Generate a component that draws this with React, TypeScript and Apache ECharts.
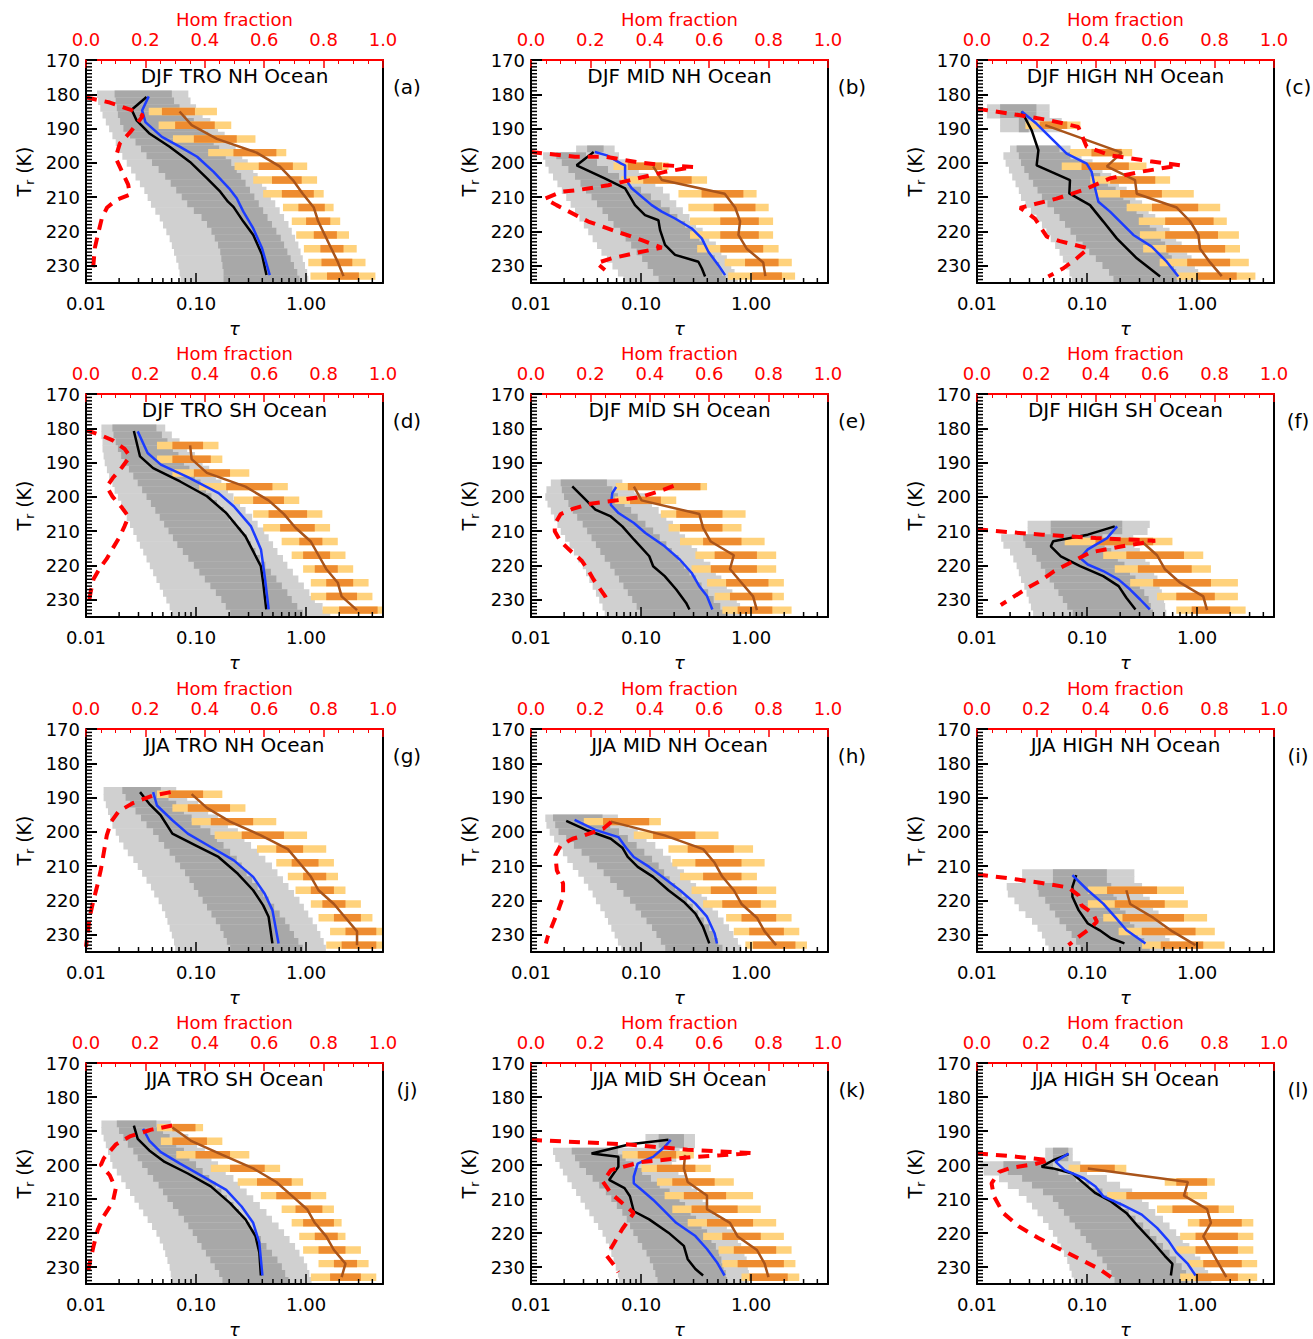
import React, { useEffect, useRef } from "react";
import * as echarts from "echarts";

type Row = number[];

const TITLES = [
  "DJF TRO NH Ocean", "DJF MID NH Ocean", "DJF HIGH NH Ocean",
  "DJF TRO SH Ocean", "DJF MID SH Ocean", "DJF HIGH SH Ocean",
  "JJA TRO NH Ocean", "JJA MID NH Ocean", "JJA HIGH NH Ocean",
  "JJA TRO SH Ocean", "JJA MID SH Ocean", "JJA HIGH SH Ocean",
];
const LETTERS = ["(a)", "(b)", "(c)", "(d)", "(e)", "(f)", "(g)", "(h)", "(i)", "(j)", "(k)", "(l)"];

const T_MIN = 170, T_MAX = 235, T_STEP = 10;
const TAU_MIN = 0.01, TAU_MAX = 5;
const HOM_MIN = 0, HOM_MAX = 1, HOM_STEP = 0.2;

// gray rows: [T bin centre, lo outer, lo inner, hi inner, hi outer] (log10 tau)
// bar rows: [T, lo outer, lo inner, hi inner, hi outer, median] (log10 tau)
// line points: [T, log10 tau];  hom points: [fraction, T]

const GRAY_A: Row[] = [
  [180,-1.90,-1.74,-1.22,-1.07],[182,-1.89,-1.73,-1.20,-1.05],[184,-1.87,-1.72,-1.15,-1.00],[186,-1.85,-1.71,-1.09,-0.94],
  [188,-1.82,-1.69,-1.02,-0.87],[190,-1.79,-1.66,-0.95,-0.80],[192,-1.76,-1.60,-0.89,-0.74],[194,-1.73,-1.55,-0.84,-0.69],
  [196,-1.70,-1.50,-0.79,-0.64],[198,-1.67,-1.45,-0.73,-0.58],[200,-1.63,-1.40,-0.68,-0.53],[202,-1.59,-1.34,-0.63,-0.48],
  [204,-1.55,-1.28,-0.59,-0.44],[206,-1.51,-1.23,-0.55,-0.40],[208,-1.47,-1.18,-0.51,-0.36],[210,-1.44,-1.13,-0.47,-0.32],
  [212,-1.41,-1.08,-0.43,-0.28],[214,-1.37,-1.02,-0.39,-0.24],[216,-1.33,-0.95,-0.35,-0.20],[218,-1.30,-0.90,-0.31,-0.16],
  [220,-1.27,-0.86,-0.27,-0.13],[222,-1.24,-0.83,-0.23,-0.10],[224,-1.22,-0.80,-0.20,-0.07],[226,-1.20,-0.78,-0.17,-0.05],
  [228,-1.18,-0.77,-0.14,-0.03],[230,-1.16,-0.76,-0.11,-0.01],[232,-1.15,-0.75,-0.08,0.01],[234,-1.14,-0.75,-0.06,0.02],
];
const BARS_A: Row[] = [
  [185,-1.43,-1.31,-1.01,-0.81,-1.15],[189,-1.34,-1.19,-0.83,-0.68,-1.04],[193,-1.21,-1.02,-0.63,-0.46,-0.81],
  [197,-0.89,-0.66,-0.27,-0.18,-0.45],[201,-0.65,-0.43,-0.12,0.01,-0.24],[205,-0.48,-0.31,-0.04,0.10,-0.12],
  [209,-0.39,-0.22,0.07,0.16,-0.03],[213,-0.21,-0.07,0.17,0.25,0.07],[217,-0.13,0.00,0.22,0.31,0.11],
  [221,-0.09,0.07,0.28,0.39,0.17],[225,-0.02,0.13,0.34,0.46,0.23],[229,0.02,0.14,0.42,0.54,0.29],[233,0.04,0.19,0.48,0.63,0.34],
];
const BLACK_A: Row[] = [
  [180.8,-1.45],[184.5,-1.585],[187.6,-1.54],[191.5,-1.42],[195.3,-1.24],[199.7,-1.055],[204.5,-0.90],
  [208.4,-0.78],[211.3,-0.71],[212.8,-0.66],[217.1,-0.57],[221.0,-0.48],[226.8,-0.40],[232.7,-0.36],
];
const BLUE_A: Row[] = [
  [180.6,-1.43],[184.7,-1.49],[188.1,-1.46],[192.4,-1.31],[195.3,-1.145],[198.2,-0.99],[202.6,-0.84],
  [207.4,-0.70],[210.3,-0.63],[214.2,-0.57],[219.1,-0.48],[224.9,-0.40],[232.7,-0.33],
];
const HOM_A: Row[] = [
  [0,180.9],[0.08,182.4],[0.156,184.7],[0.192,186.2],[0.172,188.5],[0.148,191.1],[0.114,194.3],[0.104,197.2],
  [0.104,199.3],[0.131,204.3],[0.142,206.3],[0.148,209.2],[0.104,210.7],[0.071,213],[0.054,215.9],[0.04,220.9],
  [0.03,224.7],[0.024,230.5],
];

const GRAY_B: Row[] = [
  [196,-1.59,-1.49,-1.34,-1.24],[198,-1.89,-1.77,-1.50,-1.20],[200,-1.87,-1.72,-1.40,-1.10],[202,-1.84,-1.66,-1.30,-1.02],
  [204,-1.80,-1.60,-1.20,-0.94],[206,-1.76,-1.55,-1.10,-0.87],[208,-1.72,-1.50,-1.00,-0.80],[210,-1.68,-1.45,-0.91,-0.74],
  [212,-1.64,-1.40,-0.82,-0.68],[214,-1.60,-1.35,-0.74,-0.62],[216,-1.56,-1.30,-0.67,-0.56],[218,-1.52,-1.25,-0.60,-0.50],
  [220,-1.48,-1.19,-0.53,-0.44],[222,-1.44,-1.14,-0.47,-0.38],[224,-1.40,-1.09,-0.42,-0.32],[226,-1.36,-1.04,-0.37,-0.27],
  [228,-1.31,-0.99,-0.33,-0.22],[230,-1.26,-0.94,-0.29,-0.18],[232,-1.21,-0.89,-0.26,-0.15],[234,-1.16,-0.84,-0.23,-0.12],
];
const BARS_B: Row[] = [
  [201,-1.25,-1.12,-0.81,-0.75,-0.89],[205,-1.18,-0.98,-0.54,-0.40,-0.81],[209,-0.66,-0.45,-0.07,0.05,-0.24],
  [213,-0.57,-0.34,0.04,0.16,-0.145],[217,-0.555,-0.28,0.07,0.20,-0.10],[221,-0.555,-0.28,0.07,0.20,-0.115],
  [225,-0.49,-0.28,0.11,0.25,-0.04],[229,-0.24,-0.055,0.25,0.37,0.11],[233,-0.21,0.006,0.28,0.40,0.13],
];
const BLACK_B: Row[] = [
  [196.8,-1.43],[200.7,-1.585],[204.5,-1.33],[207.4,-1.145],[212.3,-1.055],[215.2,-0.964],[216.7,-0.842],
  [219.6,-0.827],[223.9,-0.782],[226.8,-0.691],[228.8,-0.479],[230.7,-0.448],[233.1,-0.418],
];
const BLUE_B: Row[] = [
  [196.8,-1.42],[197.8,-1.31],[200.2,-1.18],[200.7,-1.145],[204.5,-1.145],[207.4,-1.085],[212.3,-0.903],
  [214.2,-0.812],[216.2,-0.691],[219.1,-0.539],[222.0,-0.448],[225.9,-0.388],[229.8,-0.297],[232.7,-0.236],
];
const HOM_B: Row[] = [
  [0,196.8],[0.148,198.2],[0.249,198.2],[0.367,199.9],[0.451,200.7],[0.547,201.2],[0.451,202.6],[0.35,204.7],
  [0.26,206.5],[0.159,207.9],[0.103,208.4],[0.047,210.4],[0.086,212.3],[0.193,217.1],[0.305,220.5],[0.373,222.5],
  [0.44,224.7],[0.35,226.3],[0.272,227.8],[0.221,229.2],[0.249,231.2],
];

const GRAY_C: Row[] = [
  [184,-1.91,-1.79,-1.46,-1.34],[186,-1.91,-1.79,-1.46,-1.34],[188,-1.79,-1.62,-1.53,-1.23],[190,-1.79,-1.62,-1.53,-1.23],
  [196,-1.70,-1.64,-1.25,-1.15],[198,-1.76,-1.62,-1.15,-1.05],[200,-1.74,-1.60,-1.05,-0.95],[202,-1.71,-1.57,-0.96,-0.86],
  [204,-1.68,-1.53,-0.88,-0.78],[206,-1.65,-1.49,-0.81,-0.71],[208,-1.62,-1.45,-0.74,-0.64],[210,-1.60,-1.41,-0.67,-0.56],
  [212,-1.56,-1.36,-0.61,-0.50],[214,-1.51,-1.30,-0.55,-0.44],[216,-1.46,-1.25,-0.49,-0.38],[218,-1.41,-1.20,-0.43,-0.31],
  [220,-1.37,-1.15,-0.37,-0.25],[222,-1.33,-1.10,-0.33,-0.19],[224,-1.29,-1.04,-0.29,-0.14],[226,-1.25,-0.98,-0.26,-0.09],
  [228,-1.22,-0.92,-0.23,-0.05],[230,-1.19,-0.86,-0.21,-0.02],[232,-1.16,-0.80,-0.19,0.01],[234,-1.14,-0.76,-0.18,0.03],
];
const BARS_C: Row[] = [
  [189,-1.56,-1.43,-1.18,-1.06,-1.38],[197,-1.155,-0.96,-0.685,-0.59,-0.685],[201,-1.23,-1.05,-0.62,-0.46,-0.82],
  [205,-0.97,-0.79,-0.38,-0.245,-0.564],[209,-0.91,-0.70,-0.32,-0.03,-0.548],[213,-0.64,-0.41,0.01,0.21,-0.185],
  [217,-0.53,-0.29,0.15,0.27,-0.064],[221,-0.52,-0.29,0.19,0.38,0.012],[225,-0.49,-0.28,0.255,0.39,0.027],
  [229,-0.34,-0.09,0.30,0.47,0.118],[233,-0.185,0.00,0.36,0.53,0.224],
];
const BLACK_C: Row[] = [
  [185,-1.594],[190.5,-1.503],[196.3,-1.442],[200.7,-1.458],[205,-1.155],[208.9,-1.161],[212.3,-0.973],
  [217.1,-0.852],[222,-0.730],[224.9,-0.639],[227.8,-0.548],[233.1,-0.336],
];
const BLUE_C: Row[] = [
  [185,-1.594],[188.6,-1.458],[194.4,-1.276],[197.3,-1.185],[200.2,-1.003],[202.6,-0.958],[207.4,-0.927],
  [211.3,-0.897],[214.2,-0.791],[221,-0.579],[224.4,-0.412],[228.8,-0.276],[233.1,-0.17],
];
const HOM_C: Row[] = [
  [0,184.2],[0.145,186.1],[0.246,187.6],[0.341,189.5],[0.369,195.3],[0.448,197.8],[0.583,199.5],[0.684,200.7],
  [0.549,202.6],[0.448,204.5],[0.358,207.9],[0.268,210.4],[0.145,213.1],[0.195,216.2],[0.235,221.5],[0.279,222.8],
  [0.375,224.9],[0.336,227.8],[0.291,230.7],[0.24,233.1],
];

const GRAY_D: Row[] = [
  [180,-1.86,-1.76,-1.36,-1.28],[182,-1.86,-1.75,-1.31,-1.22],[184,-1.85,-1.73,-1.26,-1.15],[186,-1.85,-1.71,-1.21,-1.08],
  [188,-1.84,-1.68,-1.16,-1.01],[190,-1.83,-1.65,-1.11,-0.94],[192,-1.81,-1.61,-1.06,-0.88],[194,-1.79,-1.57,-1.01,-0.82],
  [196,-1.76,-1.53,-0.96,-0.77],[198,-1.74,-1.49,-0.91,-0.71],[200,-1.71,-1.45,-0.86,-0.66],[202,-1.68,-1.41,-0.81,-0.60],
  [204,-1.65,-1.37,-0.75,-0.55],[206,-1.63,-1.33,-0.70,-0.49],[208,-1.60,-1.29,-0.64,-0.44],[210,-1.57,-1.25,-0.59,-0.38],
  [212,-1.54,-1.21,-0.54,-0.34],[214,-1.51,-1.17,-0.50,-0.30],[216,-1.48,-1.12,-0.46,-0.26],[218,-1.45,-1.07,-0.42,-0.21],
  [220,-1.42,-1.02,-0.37,-0.17],[222,-1.39,-0.97,-0.32,-0.12],[224,-1.36,-0.92,-0.27,-0.07],[226,-1.33,-0.87,-0.22,-0.02],
  [228,-1.30,-0.82,-0.17,0.03],[230,-1.27,-0.77,-0.13,0.08],[232,-1.24,-0.73,-0.08,0.15],[234,-1.22,-0.69,-0.03,0.22],
];
const BARS_D: Row[] = [
  [185,-1.355,-1.215,-0.936,-0.796,-1.054],[189,-1.355,-1.215,-0.866,-0.761,-1.04],[193,-1.215,-1.02,-0.691,-0.516,-0.901],
  [197,-0.971,-0.726,-0.306,-0.166,-0.551],[201,-0.656,-0.481,-0.201,-0.062,-0.341],[205,-0.481,-0.341,0.009,0.148,-0.201],
  [209,-0.39,-0.236,0.079,0.218,-0.096],[213,-0.222,-0.062,0.148,0.288,0.043],[217,-0.131,-0.027,0.218,0.358,0.113],
  [221,-0.027,0.079,0.288,0.428,0.183],[225,0.043,0.183,0.428,0.568,0.288],[229,0.043,0.183,0.463,0.603,0.323],
  [233,0.15,0.30,0.65,0.70,0.463],
];
const BLACK_D: Row[] = [
  [180.8,-1.565],[188.2,-1.509],[191.6,-1.39],[195.5,-1.145],[199.8,-0.901],[204.7,-0.726],[211.5,-0.551],
  [220.2,-0.411],[225.0,-0.39],[232.8,-0.362],
];
const BLUE_D: Row[] = [
  [180.9,-1.53],[187.2,-1.44],[190.6,-1.32],[194.2,-1.075],[198.9,-0.795],[202.8,-0.655],[208.6,-0.50],
  [215.3,-0.41],[223.1,-0.376],[232.8,-0.34],
];
const HOM_D: Row[] = [
  [0,180.5],[0.05,182],[0.09,183.5],[0.13,186],[0.148,188.2],[0.12,191.5],[0.09,194.5],[0.07,197],[0.09,200],
  [0.12,203],[0.143,205.7],[0.13,208.5],[0.114,211.5],[0.09,215],[0.07,218],[0.045,221],[0.025,224],[0.015,228],
  [0.008,231.8],
];

const GRAY_E: Row[] = [
  [196,-1.82,-1.73,-1.31,-1.17],[198,-1.86,-1.72,-1.26,-1.06],[200,-1.87,-1.70,-1.21,-0.96],[202,-1.85,-1.66,-1.15,-0.90],
  [204,-1.82,-1.62,-1.09,-0.84],[206,-1.79,-1.58,-1.03,-0.77],[208,-1.76,-1.53,-0.96,-0.71],[210,-1.73,-1.49,-0.89,-0.65],
  [212,-1.69,-1.45,-0.83,-0.60],[214,-1.65,-1.41,-0.77,-0.54],[216,-1.61,-1.37,-0.72,-0.49],[218,-1.57,-1.33,-0.66,-0.43],
  [220,-1.53,-1.28,-0.61,-0.37],[222,-1.50,-1.24,-0.56,-0.32],[224,-1.47,-1.20,-0.50,-0.27],[226,-1.44,-1.16,-0.45,-0.22],
  [228,-1.41,-1.12,-0.39,-0.17],[230,-1.38,-1.08,-0.34,-0.13],[232,-1.35,-1.04,-0.28,-0.10],[234,-1.33,-1.00,-0.23,-0.08],
];
const BARS_E: Row[] = [
  [197,-1.23,-1.12,-0.46,-0.40,-1.065],[201,-1.24,-1.10,-0.82,-0.68,-0.995],[205,-0.82,-0.68,-0.26,-0.05,-0.47],
  [209,-0.75,-0.646,-0.26,-0.087,-0.436],[213,-0.646,-0.436,-0.087,0.123,-0.366],[217,-0.506,-0.331,0.053,0.228,-0.157],
  [221,-0.541,-0.366,0.053,0.228,-0.192],[225,-0.401,-0.227,0.158,0.298,-0.087],[229,-0.331,-0.192,0.193,0.298,0.018],
  [233,-0.261,-0.122,0.193,0.368,0.053],
];
const BLACK_E: Row[] = [
  [196.9,-1.625],[200.3,-1.52],[203.7,-1.415],[205.7,-1.275],[208.6,-1.17],[212.4,-1.065],[217.3,-0.925],
  [220.2,-0.89],[223.1,-0.785],[227,-0.68],[230.9,-0.59],[232.8,-0.56],
];
const BLUE_E: Row[] = [
  [197.1,-1.226],[198.9,-1.261],[202.3,-1.275],[204.7,-1.205],[207.6,-1.065],[210.5,-0.96],[214.4,-0.785],
  [218.3,-0.646],[222.1,-0.541],[226,-0.471],[228.9,-0.401],[232.8,-0.352],
];
const HOM_E: Row[] = [
  [0.48,196.8],[0.43,198.4],[0.37,200],[0.29,201],[0.2,202],[0.14,203.5],[0.1,205],[0.08,208],[0.08,210],[0.1,213],
  [0.13,215.5],[0.17,218.5],[0.19,221],[0.21,224],[0.23,226.5],[0.25,229],[0.26,231],
];

const GRAY_F: Row[] = [
  [208,-1.54,-1.33,-0.68,-0.43],[210,-1.54,-1.33,-0.68,-0.45],[212,-1.78,-1.58,-0.86,-0.58],[214,-1.76,-1.56,-0.84,-0.57],
  [216,-1.70,-1.50,-0.78,-0.52],[218,-1.67,-1.46,-0.72,-0.47],[220,-1.64,-1.42,-0.66,-0.43],[222,-1.62,-1.38,-0.61,-0.39],
  [224,-1.60,-1.34,-0.56,-0.36],[226,-1.57,-1.30,-0.52,-0.34],[228,-1.55,-1.26,-0.48,-0.32],[230,-1.53,-1.22,-0.44,-0.30],
  [232,-1.51,-1.18,-0.42,-0.29],[234,-1.49,-1.13,-0.40,-0.28],
];
const BARS_F: Row[] = [
  [213,-1.203,-0.923,-0.399,-0.224,-0.503],[217,-0.853,-0.643,-0.119,0.056,-0.364],[221,-0.748,-0.538,-0.049,0.126,-0.294],
  [225,-0.608,-0.399,0.126,0.371,-0.154],[229,-0.364,-0.189,0.161,0.371,0.056],[233,-0.189,-0.049,0.301,0.441,0.091],
];
const BLACK_F: Row[] = [
  [208.6,-0.748],[211,-0.993],[212.9,-1.308],[214.4,-1.329],[217.3,-1.238],[220.2,-1.063],[223.1,-0.853],
  [226,-0.713],[229.4,-0.643],[232.8,-0.56],
];
const BLUE_F: Row[] = [
  [208.6,-0.727],[212,-0.818],[215.3,-0.993],[217.8,-1.063],[219.7,-0.993],[221.6,-0.853],[224.1,-0.713],
  [227,-0.608],[229.9,-0.517],[232.8,-0.43],
];
const HOM_F: Row[] = [
  [0,209.4],[0.1,210.2],[0.22,211],[0.4,212],[0.6,212.8],[0.5,214.2],[0.38,216.2],[0.33,218.5],[0.26,221.6],
  [0.22,224.1],[0.17,226.5],[0.12,229.3],[0.08,231.5],
];

const GRAY_G: Row[] = [
  [188,-1.84,-1.67,-1.32,-1.18],[190,-1.84,-1.64,-1.25,-1.08],[192,-1.82,-1.60,-1.18,-0.98],[194,-1.80,-1.55,-1.11,-0.89],
  [196,-1.78,-1.50,-1.04,-0.80],[198,-1.76,-1.45,-0.96,-0.71],[200,-1.73,-1.39,-0.87,-0.62],[202,-1.70,-1.34,-0.81,-0.56],
  [204,-1.66,-1.29,-0.75,-0.50],[206,-1.62,-1.24,-0.69,-0.43],[208,-1.57,-1.19,-0.63,-0.37],[210,-1.53,-1.145,-0.585,-0.31],
  [212,-1.49,-1.10,-0.54,-0.26],[214,-1.45,-1.06,-0.49,-0.21],[216,-1.41,-1.02,-0.44,-0.16],[218,-1.38,-0.98,-0.39,-0.11],
  [220,-1.34,-0.94,-0.34,-0.06],[222,-1.31,-0.90,-0.29,-0.02],[224,-1.28,-0.86,-0.24,0.02],[226,-1.26,-0.82,-0.19,0.06],
  [228,-1.24,-0.78,-0.15,0.10],[230,-1.22,-0.75,-0.11,0.13],[232,-1.20,-0.72,-0.07,0.16],[234,-1.19,-0.69,-0.03,0.18],
];
const BARS_G: Row[] = [
  [189,-1.355,-1.25,-0.936,-0.761,-1.04],[193,-1.215,-1.075,-0.691,-0.551,-0.901],[197,-1.04,-0.866,-0.481,-0.271,-0.691],
  [201,-0.831,-0.585,-0.201,0.009,-0.411],[205,-0.446,-0.271,-0.027,0.183,-0.166],[209,-0.271,-0.131,0.113,0.253,-0.061],
  [213,-0.166,-0.027,0.183,0.29,0.043],[217,-0.096,0.043,0.253,0.358,0.113],[221,0.043,0.148,0.358,0.498,0.253],
  [225,0.113,0.253,0.498,0.603,0.358],[229,0.218,0.358,0.638,0.70,0.463],[233,0.183,0.323,0.638,0.70,0.463],
];
const BLACK_G: Row[] = [
  [188.4,-1.509],[191.8,-1.425],[195.2,-1.32],[200.5,-1.215],[203.9,-1.005],[207.3,-0.796],[212.2,-0.62],
  [217,-0.481],[221.4,-0.39],[224.7,-0.341],[232.5,-0.306],
];
const BLUE_G: Row[] = [
  [188.4,-1.39],[192.3,-1.355],[196.6,-1.215],[200.5,-1.075],[204.4,-0.866],[208.3,-0.656],[213.1,-0.481],
  [218,-0.376],[222.8,-0.306],[232.5,-0.25],
];
const HOM_G: Row[] = [
  [0.285,188.4],[0.226,189.4],[0.16,191.5],[0.11,194],[0.085,197],[0.07,201],[0.06,206],[0.05,211],[0.037,216],
  [0.025,220],[0.012,225],[0.005,230],[0,233.5],
];

const GRAY_H: Row[] = [
  [196,-1.87,-1.80,-1.35,-1.21],[198,-1.86,-1.78,-1.28,-1.12],[200,-1.83,-1.75,-1.20,-1.03],[202,-1.79,-1.68,-1.12,-0.95],
  [204,-1.75,-1.61,-1.04,-0.87],[206,-1.71,-1.54,-0.97,-0.80],[208,-1.67,-1.47,-0.90,-0.73],[210,-1.62,-1.40,-0.84,-0.67],
  [212,-1.57,-1.34,-0.79,-0.61],[214,-1.52,-1.28,-0.74,-0.55],[216,-1.48,-1.22,-0.69,-0.50],[218,-1.44,-1.16,-0.63,-0.45],
  [220,-1.41,-1.10,-0.58,-0.40],[222,-1.37,-1.05,-0.53,-0.35],[224,-1.33,-1.00,-0.48,-0.30],[226,-1.30,-0.95,-0.43,-0.25],
  [228,-1.27,-0.90,-0.38,-0.20],[230,-1.24,-0.86,-0.34,-0.16],[232,-1.21,-0.82,-0.30,-0.12],[234,-1.18,-0.78,-0.26,-0.09],
];
const BARS_H: Row[] = [
  [197,-1.52,-1.345,-0.926,-0.82,-1.275],[201,-1.066,-0.891,-0.506,-0.296,-0.786],[205,-0.751,-0.576,-0.157,0.018,-0.436],
  [209,-0.716,-0.506,-0.087,0.123,-0.331],[213,-0.646,-0.436,-0.087,0.053,-0.262],[217,-0.541,-0.366,0.053,0.228,-0.157],
  [221,-0.436,-0.262,0.088,0.228,-0.087],[225,-0.227,-0.087,0.228,0.368,0.053],[229,-0.157,-0.017,0.298,0.438,0.123],
  [233,-0.052,0.018,0.403,0.508,0.228],
];
const BLACK_H: Row[] = [
  [196.8,-1.68],[199.6,-1.485],[202,-1.275],[204.6,-1.17],[207.3,-1.121],[210.2,-1.03],[213.1,-0.89],
  [217,-0.751],[220.4,-0.611],[223.8,-0.506],[227.7,-0.436],[232.5,-0.38],
];
const BLUE_H: Row[] = [
  [196.5,-1.604],[199.4,-1.415],[201.5,-1.206],[204.6,-1.136],[207.3,-1.066],[210.2,-0.926],[213.6,-0.786],
  [217,-0.646],[220.9,-0.506],[224.7,-0.401],[229.6,-0.331],[232.5,-0.31],
];
const HOM_H: Row[] = [
  [0.27,197.1],[0.243,199.1],[0.18,201],[0.14,202],[0.1,203.9],[0.082,206.8],[0.087,211.2],[0.108,215],
  [0.108,218.9],[0.092,222.8],[0.074,226.7],[0.056,230.6],[0.05,232.5],
];

const GRAY_I: Row[] = [
  [212,-1.59,-1.31,-0.82,-0.57],[214,-1.59,-1.31,-0.82,-0.57],[216,-1.73,-1.45,-0.78,-0.50],[218,-1.72,-1.44,-0.76,-0.49],
  [220,-1.66,-1.38,-0.73,-0.43],[222,-1.62,-1.34,-0.70,-0.40],[224,-1.56,-1.29,-0.65,-0.35],[226,-1.50,-1.25,-0.61,-0.33],
  [228,-1.45,-1.19,-0.57,-0.31],[230,-1.41,-1.14,-0.54,-0.29],[232,-1.38,-1.10,-0.48,-0.25],[234,-1.35,-1.06,-0.43,-0.22],
];
const BARS_I: Row[] = [
  [217,-0.993,-0.818,-0.364,-0.119,-0.643],[221,-0.993,-0.748,-0.294,-0.084,-0.608],[225,-0.853,-0.678,-0.119,0.091,-0.399],
  [229,-0.713,-0.503,-0.014,0.161,-0.224],[233,-0.50,-0.33,0.056,0.25,-0.014],
];
const BLACK_I: Row[] = [
  [212.6,-1.098],[216,-1.133],[218.9,-1.133],[222.8,-1.077],[226.7,-0.993],[228.6,-0.888],[231,-0.783],[232.5,-0.66],
];
const BLUE_I: Row[] = [
  [212.6,-1.133],[217,-0.993],[220.9,-0.853],[224.7,-0.748],[228.6,-0.643],[232.5,-0.469],
];
const HOM_I: Row[] = [
  [0,212.4],[0.114,213.6],[0.218,214.9],[0.308,216.2],[0.342,218.5],[0.352,221.4],[0.39,223.8],[0.404,226.2],
  [0.373,228.6],[0.342,230.6],[0.308,233],
];

const GRAY_J: Row[] = [
  [188,-1.86,-1.72,-1.36,-1.23],[190,-1.86,-1.70,-1.30,-1.15],[192,-1.84,-1.66,-1.24,-1.07],[194,-1.82,-1.62,-1.18,-0.99],
  [196,-1.80,-1.57,-1.11,-0.92],[198,-1.78,-1.53,-1.06,-0.86],[200,-1.76,-1.49,-1.00,-0.80],[202,-1.72,-1.44,-0.94,-0.73],
  [204,-1.68,-1.39,-0.88,-0.66],[206,-1.64,-1.34,-0.82,-0.60],[208,-1.60,-1.30,-0.77,-0.54],[210,-1.56,-1.26,-0.72,-0.48],
  [212,-1.52,-1.21,-0.66,-0.42],[214,-1.48,-1.16,-0.61,-0.36],[216,-1.44,-1.11,-0.56,-0.31],[218,-1.40,-1.07,-0.51,-0.25],
  [220,-1.36,-1.03,-0.46,-0.20],[222,-1.33,-0.99,-0.41,-0.15],[224,-1.30,-0.95,-0.36,-0.10],[226,-1.28,-0.91,-0.31,-0.06],
  [228,-1.26,-0.87,-0.26,-0.02],[230,-1.24,-0.83,-0.22,0.01],[232,-1.23,-0.79,-0.19,0.03],[234,-1.22,-0.76,-0.16,0.05],
];
const BARS_J: Row[] = [
  [189,-1.355,-1.215,-1.005,-0.936,-1.215],[193,-1.32,-1.215,-0.901,-0.761,-1.04],[197,-1.18,-1.005,-0.691,-0.516,-0.761],
  [201,-0.866,-0.691,-0.376,-0.236,-0.481],[205,-0.621,-0.446,-0.131,-0.027,-0.271],[209,-0.411,-0.271,0.043,0.183,-0.131],
  [213,-0.222,-0.096,0.148,0.253,0.009],[217,-0.131,-0.027,0.253,0.323,0.079],[221,-0.062,0.079,0.288,0.358,0.183],
  [225,-0.027,0.113,0.358,0.498,0.253],[229,0.113,0.253,0.463,0.568,0.358],[233,0.043,0.218,0.498,0.638,0.323],
];
const BLACK_J: Row[] = [
  [188.4,-1.565],[192.3,-1.53],[195.7,-1.425],[199.1,-1.285],[202.5,-1.075],[206.3,-0.866],[211.2,-0.691],
  [216,-0.551],[220.9,-0.46],[225.7,-0.425],[232.5,-0.411],
];
const BLUE_J: Row[] = [
  [189.4,-1.481],[192.8,-1.425],[196.2,-1.32],[199.6,-1.145],[203.4,-0.936],[207.3,-0.726],[212.2,-0.586],
  [217,-0.481],[222.8,-0.425],[232.5,-0.397],
];
const HOM_J: Row[] = [
  [0.29,188.4],[0.22,189.6],[0.15,191.5],[0.1,194],[0.06,198],[0.05,200],[0.08,203],[0.1,207],[0.09,211],
  [0.06,215],[0.04,219],[0.025,224],[0.012,229],[0.005,233],
];

const GRAY_K: Row[] = [
  [192,-0.96,-0.84,-0.61,-0.51],[194,-0.96,-0.84,-0.61,-0.51],[196,-1.80,-1.63,-1.21,-0.65],[198,-1.78,-1.60,-1.14,-0.68],
  [200,-1.74,-1.56,-1.07,-0.72],[202,-1.71,-1.50,-0.99,-0.66],[204,-1.67,-1.44,-0.91,-0.60],[206,-1.63,-1.38,-0.83,-0.54],
  [208,-1.59,-1.32,-0.74,-0.49],[210,-1.55,-1.27,-0.65,-0.44],[212,-1.51,-1.22,-0.60,-0.39],[214,-1.47,-1.17,-0.55,-0.34],
  [216,-1.43,-1.13,-0.50,-0.29],[218,-1.39,-1.10,-0.45,-0.22],[220,-1.35,-1.07,-0.40,-0.16],[222,-1.32,-1.03,-0.36,-0.12],
  [224,-1.29,-0.99,-0.32,-0.09],[226,-1.27,-0.95,-0.29,-0.06],[228,-1.25,-0.92,-0.27,-0.04],[230,-1.23,-0.89,-0.25,-0.03],
  [232,-1.21,-0.87,-0.23,-0.02],[234,-1.20,-0.85,-0.22,-0.02],
];
const BARS_K: Row[] = [
  [197,-1.17,-1.03,-0.681,-0.52,-0.60],[201,-0.996,-0.856,-0.506,-0.366,-0.611],[205,-0.856,-0.716,-0.331,-0.157,-0.576],
  [209,-0.786,-0.611,-0.227,0.018,-0.401],[213,-0.716,-0.541,-0.122,0.088,-0.401],[217,-0.576,-0.401,0.018,0.228,-0.192],
  [221,-0.436,-0.262,0.088,0.298,-0.122],[225,-0.296,-0.157,0.228,0.368,0.053],[229,-0.262,-0.122,0.298,0.403,0.123],
  [233,-0.087,-0.017,0.333,0.438,0.158],
];
const BLACK_K: Row[] = [
  [192.6,-0.751],[193.9,-1.101],[196.6,-1.45],[197.6,-1.206],[200.5,-1.206],[204.4,-1.29],[206.8,-1.15],
  [209.2,-1.101],[213.6,-1.066],[216,-0.926],[219.9,-0.751],[223.8,-0.611],[227.7,-0.576],[230.6,-0.506],[232.5,-0.436],
];
const BLUE_K: Row[] = [
  [192.6,-0.73],[194.7,-0.786],[197.6,-0.891],[199.6,-1.031],[203.4,-1.066],[205.4,-1.066],[207.3,-0.996],
  [210.2,-0.891],[213.6,-0.786],[217,-0.681],[220.9,-0.506],[224.7,-0.401],[228.6,-0.311],[232.5,-0.241],
];
const HOM_K: Row[] = [
  [0,192.6],[0.113,193.1],[0.32,193.9],[0.527,195.5],[0.747,196.5],[0.553,197.6],[0.372,199.1],[0.269,201.5],
  [0.242,204.9],[0.269,208.3],[0.307,211.2],[0.346,214.1],[0.307,218.9],[0.281,222.8],[0.255,226.7],[0.281,229.6],
  [0.294,231.5],
];

const GRAY_L: Row[] = [
  [196,-1.38,-1.31,-1.17,-1.13],[198,-1.38,-1.31,-1.17,-1.13],[200,-1.97,-1.76,-1.31,-1.06],[202,-1.94,-1.72,-1.26,-1.00],
  [204,-1.80,-1.59,-1.10,-0.82],[206,-1.72,-1.50,-0.98,-0.70],[208,-1.62,-1.40,-0.86,-0.59],[210,-1.55,-1.31,-0.75,-0.50],
  [212,-1.50,-1.26,-0.69,-0.44],[214,-1.45,-1.21,-0.62,-0.38],[216,-1.40,-1.16,-0.56,-0.31],[218,-1.35,-1.11,-0.49,-0.25],
  [220,-1.31,-1.06,-0.43,-0.19],[222,-1.27,-1.01,-0.37,-0.13],[224,-1.24,-0.96,-0.31,-0.07],[226,-1.21,-0.91,-0.25,-0.02],
  [228,-1.18,-0.86,-0.19,0.03],[230,-1.16,-0.82,-0.14,0.07],[232,-1.14,-0.78,-0.10,0.10],[234,-1.12,-0.75,-0.08,0.13],
];
const BARS_L: Row[] = [
  [201,-1.168,-1.063,-0.748,-0.643,-0.993],[205,-0.294,-0.189,0.091,0.161,-0.084],[209,-0.818,-0.643,-0.084,0.091,-0.119],
  [213,-0.364,-0.224,0.196,0.336,0.091],[217,-0.084,0.021,0.406,0.511,0.126],[221,-0.154,-0.014,0.371,0.511,0.056],
  [225,-0.189,-0.014,0.371,0.511,0.126],[229,-0.084,0.056,0.406,0.546,0.196],[233,-0.154,-0.014,0.371,0.546,0.266],
];
const BLACK_L: Row[] = [
  [196.8,-1.168],[198.6,-1.308],[200.5,-1.413],[201,-1.308],[202.5,-1.133],[205.4,-1.028],[208.3,-0.923],
  [210.7,-0.783],[214.1,-0.643],[218,-0.538],[222.8,-0.399],[226.7,-0.294],[229.1,-0.224],[232.5,-0.238],
];
const BLUE_L: Row[] = [
  [196.6,-1.168],[199,-1.287],[201.5,-1.203],[203.9,-1.028],[206.3,-0.923],[209.2,-0.853],[211.7,-0.678],
  [214.6,-0.503],[218.5,-0.364],[222.3,-0.259],[225.7,-0.189],[229.1,-0.084],[232.5,-0.014],
];
const HOM_L: Row[] = [
  [0,196.6],[0.114,197.4],[0.243,198.6],[0.192,199.8],[0.114,200.8],[0.075,202],[0.049,205.4],[0.057,209.2],
  [0.088,214.1],[0.14,218],[0.205,221.4],[0.269,224.3],[0.347,227.7],[0.412,230.6],[0.451,233],
];

const PANELS = [
  { gray: GRAY_A, bars: BARS_A, black: BLACK_A, blue: BLUE_A, hom: HOM_A },
  { gray: GRAY_B, bars: BARS_B, black: BLACK_B, blue: BLUE_B, hom: HOM_B },
  { gray: GRAY_C, bars: BARS_C, black: BLACK_C, blue: BLUE_C, hom: HOM_C },
  { gray: GRAY_D, bars: BARS_D, black: BLACK_D, blue: BLUE_D, hom: HOM_D },
  { gray: GRAY_E, bars: BARS_E, black: BLACK_E, blue: BLUE_E, hom: HOM_E },
  { gray: GRAY_F, bars: BARS_F, black: BLACK_F, blue: BLUE_F, hom: HOM_F },
  { gray: GRAY_G, bars: BARS_G, black: BLACK_G, blue: BLUE_G, hom: HOM_G },
  { gray: GRAY_H, bars: BARS_H, black: BLACK_H, blue: BLUE_H, hom: HOM_H },
  { gray: GRAY_I, bars: BARS_I, black: BLACK_I, blue: BLUE_I, hom: HOM_I },
  { gray: GRAY_J, bars: BARS_J, black: BLACK_J, blue: BLUE_J, hom: HOM_J },
  { gray: GRAY_K, bars: BARS_K, black: BLACK_K, blue: BLUE_K, hom: HOM_K },
  { gray: GRAY_L, bars: BARS_L, black: BLACK_L, blue: BLUE_L, hom: HOM_L },
];

// layout
const COL_LEFT = [86, 531, 977];
const ROW_TOP = [60, 394, 729, 1063];
const PW = 297;
const PH = 223;
const FONT = "'DejaVu Sans', sans-serif";

const C_LIGHT = "#d0d0d0";
const C_DARK = "#a8a8a8";
const C_OR_LIGHT = "#ffd27c";
const C_OR_DARK = "#ee8c30";
const C_BROWN = "#a9541a";
const C_BLUE = "#1c3cff";
const C_RED = "#ff0000";

// axis furniture (tick positions)
const TAU_MINOR: number[] = [];
[0.01, 0.1, 1].forEach((d) => {
  for (let k = 2; k <= 9; k++) {
    const v = k * d;
    if (v < TAU_MAX) TAU_MINOR.push(v);
  }
});
const T_MINOR: number[] = [];
for (let t = T_MIN + 1; t < T_MAX; t++) if (t % T_STEP !== 0) T_MINOR.push(t);

const pw10 = (v: number) => Math.pow(10, v);

function rectFor(api: any, x0: number, x1: number, t: number, half: number) {
  const a = api.coord([x0, t - half]);
  const b = api.coord([x1, t + half]);
  return {
    x: Math.min(a[0], b[0]),
    y: Math.min(a[1], b[1]) - 0.3,
    width: Math.abs(b[0] - a[0]),
    height: Math.abs(b[1] - a[1]) + 0.6,
  };
}

function buildOption() {
  const grid: any[] = [];
  const xAxis: any[] = [];
  const yAxis: any[] = [];
  const series: any[] = [];
  const graphic: any[] = [];

  PANELS.forEach((p, i) => {
    const c = i % 3;
    const r = Math.floor(i / 3);
    const left = COL_LEFT[c];
    const top = ROW_TOP[r];
    grid.push({ left, top, width: PW, height: PH });

    xAxis.push({
      type: "log", logBase: 10, gridIndex: i, min: TAU_MIN, max: TAU_MAX, position: "bottom", z: 10,
      axisLine: { show: true, onZero: false, lineStyle: { color: "#000", width: 2 } },
      axisTick: { show: true, inside: true, length: 10, lineStyle: { color: "#000", width: 1.5 } },
      axisLabel: {
        show: true, margin: 11, color: "#000", fontSize: 18, fontFamily: FONT,
        showMinLabel: true, showMaxLabel: false,
        formatter: (v: number) => Number(v).toFixed(2),
      },
      splitLine: { show: false },
      minorTick: { show: false },
      name: "τ", nameLocation: "middle", nameGap: 36,
      nameTextStyle: { color: "#000", fontSize: 18, fontStyle: "italic", fontFamily: FONT },
    });
    xAxis.push({
      type: "value", gridIndex: i, min: HOM_MIN, max: HOM_MAX, interval: HOM_STEP, position: "top", z: 10,
      axisLine: { show: true, onZero: false, lineStyle: { color: C_RED, width: 2 } },
      axisTick: { show: true, inside: true, length: 8, lineStyle: { color: C_RED, width: 1.5 } },
      minorTick: { show: true, splitNumber: 4, length: 4, lineStyle: { color: C_RED, width: 1 } },
      axisLabel: {
        margin: 12, color: C_RED, fontSize: 18, fontFamily: FONT, showMinLabel: true, showMaxLabel: true,
        formatter: (v: number) => Number(v).toFixed(1),
      },
      splitLine: { show: false },
      name: "Hom fraction", nameLocation: "middle", nameGap: 32,
      nameTextStyle: { color: C_RED, fontSize: 18, fontFamily: FONT },
    });
    yAxis.push({
      type: "value", gridIndex: i, min: T_MIN, max: T_MAX, interval: T_STEP, inverse: true, position: "left", z: 10,
      axisLine: { show: true, onZero: false, lineStyle: { color: "#000", width: 2 } },
      axisTick: { show: true, inside: true, length: 11, lineStyle: { color: "#000", width: 2 } },
      axisLabel: { margin: 6, color: "#000", fontSize: 18, fontFamily: FONT, showMinLabel: true, showMaxLabel: false },
      splitLine: { show: false },
      name: "{a|T}{b|r}{a| (K)}", nameLocation: "middle", nameGap: 50,
      nameTextStyle: {
        color: "#000", fontFamily: FONT, fontSize: 18,
        rich: {
          a: { fontSize: 19, fontFamily: FONT, color: "#000", lineHeight: 24, verticalAlign: "middle" },
          b: { fontSize: 12, fontFamily: FONT, color: "#000", lineHeight: 24, verticalAlign: "bottom" },
        },
      },
    });
    yAxis.push({
      type: "value", gridIndex: i, min: T_MIN, max: T_MAX, inverse: true, position: "right", z: 10,
      axisLine: { show: true, onZero: false, lineStyle: { color: "#000", width: 2 } },
      axisTick: { show: false }, axisLabel: { show: false }, splitLine: { show: false },
    });

    const xb = 2 * i;
    const xt = 2 * i + 1;
    const yl = 2 * i;

    series.push({
      type: "custom", name: "model range", xAxisIndex: xb, yAxisIndex: yl, clip: true, z: 2,
      encode: { x: [0, 1, 2, 3], y: 4 },
      data: p.gray.map((g) => [pw10(g[1]), pw10(g[2]), pw10(g[3]), pw10(g[4]), g[0]]),
      renderItem: (_params: any, api: any) => {
        const t = api.value(4);
        return {
          type: "group",
          children: [
            { type: "rect", shape: rectFor(api, api.value(0), api.value(3), t, 1), style: { fill: C_LIGHT } },
            { type: "rect", shape: rectFor(api, api.value(1), api.value(2), t, 1), style: { fill: C_DARK } },
          ],
        };
      },
    });
    series.push({
      type: "custom", name: "obs range", xAxisIndex: xb, yAxisIndex: yl, clip: true, z: 3,
      encode: { x: [0, 1, 2, 3], y: 4 },
      data: p.bars.map((b) => [pw10(b[1]), pw10(b[2]), pw10(b[3]), pw10(b[4]), b[0]]),
      renderItem: (_params: any, api: any) => {
        const t = api.value(4);
        return {
          type: "group",
          children: [
            { type: "rect", shape: rectFor(api, api.value(0), api.value(3), t, 1), style: { fill: C_OR_LIGHT } },
            { type: "rect", shape: rectFor(api, api.value(1), api.value(2), t, 1), style: { fill: C_OR_DARK } },
          ],
        };
      },
    });
    series.push({
      type: "line", name: "obs median", xAxisIndex: xb, yAxisIndex: yl, z: 4, symbol: "none", showSymbol: false,
      data: p.bars.map((b) => [pw10(b[5]), b[0]]),
      lineStyle: { color: C_BROWN, width: 2.5 },
    });
    series.push({
      type: "line", name: "median", xAxisIndex: xb, yAxisIndex: yl, z: 5, symbol: "none", showSymbol: false,
      data: p.black.map((q) => [pw10(q[1]), q[0]]),
      lineStyle: { color: "#000", width: 2.5 },
    });
    series.push({
      type: "line", name: "mean", xAxisIndex: xb, yAxisIndex: yl, z: 6, symbol: "none", showSymbol: false,
      data: p.blue.map((q) => [pw10(q[1]), q[0]]),
      lineStyle: { color: C_BLUE, width: 2.5 },
    });
    series.push({
      type: "line", name: "hom fraction", xAxisIndex: xt, yAxisIndex: yl, z: 7, symbol: "none", showSymbol: false,
      data: p.hom.map((q) => [q[0], q[1]]),
      lineStyle: { color: C_RED, width: 4, type: [11, 8] },
    });
    series.push({
      type: "custom", name: "tau minor ticks", xAxisIndex: xb, yAxisIndex: yl, z: 11, silent: true,
      encode: { x: 0, y: 1 },
      data: TAU_MINOR.map((v) => [v, T_MAX]),
      renderItem: (_params: any, api: any) => {
        const pt = api.coord([api.value(0), T_MAX]);
        return {
          type: "line",
          shape: { x1: pt[0], y1: pt[1], x2: pt[0], y2: pt[1] - 5 },
          style: { stroke: "#000", lineWidth: 1.5 },
        };
      },
    });
    series.push({
      type: "custom", name: "T minor ticks", xAxisIndex: xb, yAxisIndex: yl, z: 11, silent: true,
      encode: { x: 0, y: 1 },
      data: T_MINOR.map((t) => [TAU_MIN, t]),
      renderItem: (_params: any, api: any) => {
        const pt = api.coord([TAU_MIN, api.value(1)]);
        return {
          type: "line",
          shape: { x1: pt[0], y1: pt[1], x2: pt[0] + 6, y2: pt[1] },
          style: { stroke: "#000", lineWidth: 1.5 },
        };
      },
    });

    graphic.push({
      type: "text", x: left + PW / 2, y: top + 16, z: 100,
      style: {
        text: TITLES[i], fill: "#000", fontSize: 20, fontFamily: FONT,
        align: "center", verticalAlign: "middle", textAlign: "center", textVerticalAlign: "middle",
      },
    });
    graphic.push({
      type: "text", x: left + 321, y: top + 27, z: 100,
      style: {
        text: LETTERS[i], fill: "#000", fontSize: 20, fontFamily: FONT,
        align: "center", verticalAlign: "middle", textAlign: "center", textVerticalAlign: "middle",
      },
    });
  });

  return {
    animation: false,
    backgroundColor: "#ffffff",
    textStyle: { fontFamily: FONT },
    grid, xAxis, yAxis, series, graphic,
  };
}

export default function App() {
  const ref = useRef<HTMLDivElement>(null);
  useEffect(() => {
    if (!ref.current) return;
    const chart = echarts.init(ref.current, undefined, { renderer: "svg" });
    chart.setOption(buildOption() as any);
    return () => chart.dispose();
  }, []);
  return (
    <div
      ref={ref}
      style={{ position: "absolute", left: 0, top: 0, width: 1313, height: 1339, background: "#fff" }}
    />
  );
}
